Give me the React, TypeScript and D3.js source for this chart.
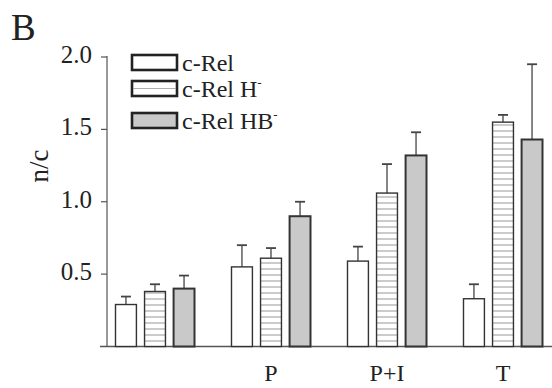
import React from "react";
import * as d3 from "d3";

const groups = ["", "P", "P+I", "T"];
const seriesNames = ["c-Rel", "c-Rel H", "c-Rel HB"];
const seriesSup = ["", "-", "-"];
const cRel = [0.29, 0.55, 0.59, 0.33];
const cRelErr = [0.345, 0.7, 0.69, 0.43];
const cRelH = [0.38, 0.61, 1.06, 1.55];
const cRelHErr = [0.43, 0.68, 1.26, 1.6];
const cRelHB = [0.4, 0.9, 1.32, 1.43];
const cRelHBErr = [0.49, 1.0, 1.48, 1.95];
const yTicks = [0.5, 1.0, 1.5, 2.0];

const W = 552, H = 388;
const font = "'Liberation Serif', 'Times New Roman', serif";

export default function App() {
  const y = d3.scaleLinear().domain([0, 2]).range([346.5, 57]);
  const x0 = d3.scaleBand().domain(groups.map((_, i) => String(i))).range([97, 561]).paddingInner(0).paddingOuter(0);
  const x1 = d3.scaleBand().domain(["0", "1", "2"]).range([0, 79]).paddingInner(0.28);
  const vals = [cRel, cRelH, cRelHB];
  const errs = [cRelErr, cRelHErr, cRelHBErr];
  const fills = ["#ffffff", "url(#stripes)", "#c9c9c9"];
  const strokes = [1.4, 1.4, 2];
  const groupOffset = (i: number) => (x0(String(i)) as number) + (x0.bandwidth() - 79) / 2;

  return (
    <svg width={W} height={H} style={{ position: "absolute", left: 0, top: 0, background: "#fff" }}>
      <defs>
        <pattern id="stripes" patternUnits="userSpaceOnUse" width={6} height={6} y={346.5 % 6}>
          <rect width={6} height={6} fill="#fff" />
          <line x1={0} x2={6} y1={0.5} y2={0.5} stroke="#8a8a8a" strokeWidth={0.9} />
        </pattern>
      </defs>
      <text x={11} y={40} fontFamily={font} fontSize={37} fill="#222">B</text>
      {/* y axis */}
      <line x1={107} x2={107} y1={56} y2={347} stroke="#555" strokeWidth={1.2} />
      <line x1={100} x2={552} y1={y(0)} y2={y(0)} stroke="#555" strokeWidth={1.4} />
      {yTicks.map((t) => (
        <g key={t}>
          <line x1={101} x2={107} y1={y(t)} y2={y(t)} stroke="#555" strokeWidth={1.2} />
          <text x={92} y={y(t) + 6} textAnchor="end" fontFamily={font} fontSize={25} fill="#222">
            {t.toFixed(1)}
          </text>
        </g>
      ))}
      <text transform={`translate(48,166) rotate(-90)`} textAnchor="middle" fontFamily={font} fontSize={27} fill="#222">
        n/c
      </text>
      {/* bars */}
      {groups.map((g, gi) => (
        <g key={gi}>
          {vals.map((v, si) => {
            const bx = groupOffset(gi) + (x1(String(si)) as number);
            const bw = x1.bandwidth();
            const cx = bx + bw / 2;
            return (
              <g key={si}>
                <line x1={cx} x2={cx} y1={y(v[gi])} y2={y(errs[si][gi])} stroke="#444" strokeWidth={1.3} />
                <line x1={cx - 5} x2={cx + 5} y1={y(errs[si][gi])} y2={y(errs[si][gi])} stroke="#444" strokeWidth={1.8} />
                <rect x={bx} y={y(v[gi])} width={bw} height={y(0) - y(v[gi])} fill={fills[si]} stroke="#333" strokeWidth={strokes[si]} />
              </g>
            );
          })}
          {g && (
            <text x={groupOffset(gi) + 39.5} y={381} textAnchor="middle" fontFamily={font} fontSize={24} fill="#222">
              {g}
            </text>
          )}
        </g>
      ))}
      {/* legend */}
      {seriesNames.map((n, i) => {
        const ly = [55, 81, 113][i];
        return (
          <g key={n}>
            <rect x={132} y={ly} width={45} height={15} fill={fills[i] === "url(#stripes)" ? "#fff" : fills[i]} stroke="#222" strokeWidth={2.6} />
            {i === 1 && <line x1={133} x2={176} y1={ly + 7.5} y2={ly + 7.5} stroke="#999" strokeWidth={0.8} />}
            <text x={182} y={ly + 16} fontFamily={font} fontSize={24} fill="#222">
              {n}
              {seriesSup[i] && <tspan dy={-10} fontSize={13}>{seriesSup[i]}</tspan>}
            </text>
          </g>
        );
      })}
    </svg>
  );
}
